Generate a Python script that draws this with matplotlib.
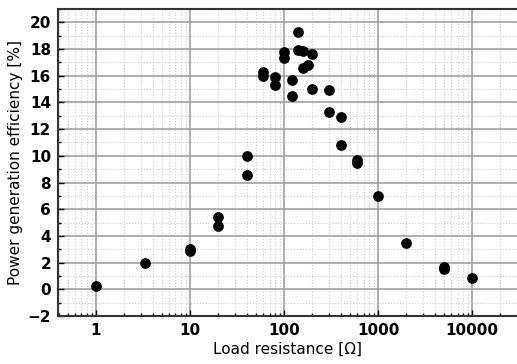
'''
Power generation efficiency vs load resistance (log x).
'''

import matplotlib
matplotlib.use("Agg")
import matplotlib.pyplot as plt
from matplotlib.ticker import LogLocator, MultipleLocator, FixedFormatter, FixedLocator

# Data
load_resistance = [1, 3.3, 10, 10, 20, 20, 40, 40, 60, 60, 80, 80,
                   100, 100, 120, 120, 140, 140, 160, 160, 180, 200, 200,
                   300, 300, 400, 400, 600, 600, 1000, 2000, 5000, 5000, 10000]
efficiency = [0.25, 2.0, 3.05, 2.85, 5.4, 4.75, 9.95, 8.6, 16.3, 16.0, 15.9, 15.3,
              17.8, 17.3, 15.7, 14.5, 19.3, 17.9, 17.85, 16.6, 16.8, 17.6, 15.0,
              14.9, 13.3, 12.9, 10.8, 9.7, 9.5, 7.0, 3.5, 1.7, 1.5, 0.85]

x_ticks = [1, 10, 100, 1000, 10000]
x_tick_labels = ["1", "10", "100", "1000", "10000"]

fig = plt.figure(figsize=(5.17, 3.64), dpi=100)
ax = fig.add_axes([58 / 517, 48 / 364, 1 - 58 / 517, (316 - 9) / 364])

ax.scatter(load_resistance, efficiency, s=60, color="black", zorder=3, linewidths=0)

ax.set_xscale("log")
ax.set_xlim(0.394, 30000)
ax.set_ylim(-2, 21)

ax.xaxis.set_major_locator(FixedLocator(x_ticks))
ax.xaxis.set_major_formatter(FixedFormatter(x_tick_labels))
ax.xaxis.set_minor_locator(LogLocator(base=10, subs=range(2, 10), numticks=20))
ax.yaxis.set_major_locator(MultipleLocator(2))
ax.yaxis.set_minor_locator(MultipleLocator(1))

ax.grid(which="major", color="#a0a0a0", linewidth=1.2)
ax.grid(which="minor", color="#cccccc", linewidth=0.8, linestyle=":")
ax.set_axisbelow(True)

ax.tick_params(which="both", direction="in", top=False, right=False)
ax.tick_params(which="major", length=4, width=1, labelsize=11, pad=5)
ax.tick_params(which="minor", length=2.5, width=1)
for lbl in ax.get_xticklabels() + ax.get_yticklabels():
    lbl.set_fontweight("bold")

ax.spines["right"].set_visible(False)
for side in ["left", "top", "bottom"]:
    ax.spines[side].set_color("#333333")
    ax.spines[side].set_linewidth(1.5)

ax.set_xlabel("Load resistance [Ω]", fontsize=11, labelpad=3)
ax.set_ylabel("Power generation efficiency [%]", fontsize=11, labelpad=3)

fig.savefig("out.png", dpi=100)
